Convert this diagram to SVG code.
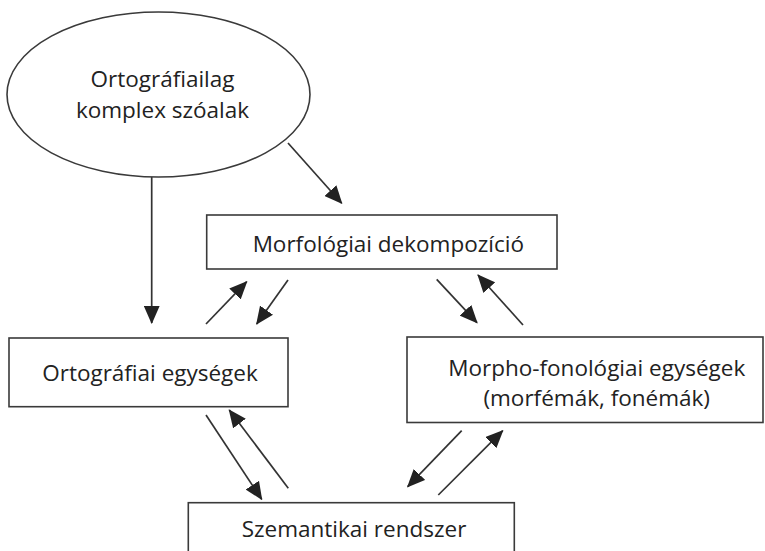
<svg xmlns="http://www.w3.org/2000/svg" width="765" height="551" viewBox="0 0 765 551">
<style>
.box{fill:#fff;stroke:#3a3a3a;stroke-width:1.6}
.lbl{font-family:"Open Sans","Liberation Sans",sans-serif;font-size:22.5px;fill:#222;text-anchor:middle}
.arr{stroke:#333;stroke-width:1.7;fill:none;marker-end:url(#ah)}
</style>
<defs>
<marker id="ah" markerUnits="userSpaceOnUse" markerWidth="18" markerHeight="16" viewBox="0 0 17 15" refX="16" refY="7.5" orient="auto">
<path d="M0,0 L17,7.5 L0,15 z" fill="#222"/>
</marker>
</defs>
<rect width="765" height="551" fill="#fff"/>
<g id="connectors">
<line class="arr" x1="288" y1="143" x2="341.7" y2="203.3"/>
<line class="arr" x1="151.7" y1="177" x2="151.7" y2="323"/>
<line class="arr" x1="206" y1="324" x2="246.7" y2="281.7"/>
<line class="arr" x1="288" y1="280" x2="256.7" y2="324"/>
<line class="arr" x1="436.7" y1="279.3" x2="477" y2="322.7"/>
<line class="arr" x1="523" y1="325" x2="478" y2="275"/>
<line class="arr" x1="206" y1="415" x2="261.7" y2="499.3"/>
<line class="arr" x1="288.3" y1="488.3" x2="229.3" y2="410"/>
<line class="arr" x1="461.7" y1="430.7" x2="407.7" y2="486.7"/>
<line class="arr" x1="438.3" y1="495" x2="502.7" y2="430.7"/>
</g>
<g id="n-szoalak">
<ellipse class="box" cx="158.5" cy="94.5" rx="151.5" ry="82.5"/>
<text class="lbl" x="162.5" y="87.3">Ortográfiailag</text>
<text class="lbl" x="162.5" y="118.3">komplex szóalak</text>
</g>
<g id="n-morf">
<rect class="box" x="206.7" y="215" width="350.3" height="54"/>
<text class="lbl" x="388.3" y="251.5">Morfológiai dekompozíció</text>
</g>
<g id="n-orto">
<rect class="box" x="9" y="338" width="279" height="68.7"/>
<text class="lbl" x="150" y="381">Ortográfiai egységek</text>
</g>
<g id="n-morpho">
<rect class="box" x="407" y="337" width="356" height="85.5"/>
<text class="lbl" x="596.7" y="376">Morpho-fonológiai egységek</text>
<text class="lbl" x="596.7" y="405.5">(morfémák, fonémák)</text>
</g>
<g id="n-szem">
<rect class="box" x="188.3" y="502.7" width="326" height="70"/>
<text class="lbl" x="354" y="536.7">Szemantikai rendszer</text>
</g>
</svg>
